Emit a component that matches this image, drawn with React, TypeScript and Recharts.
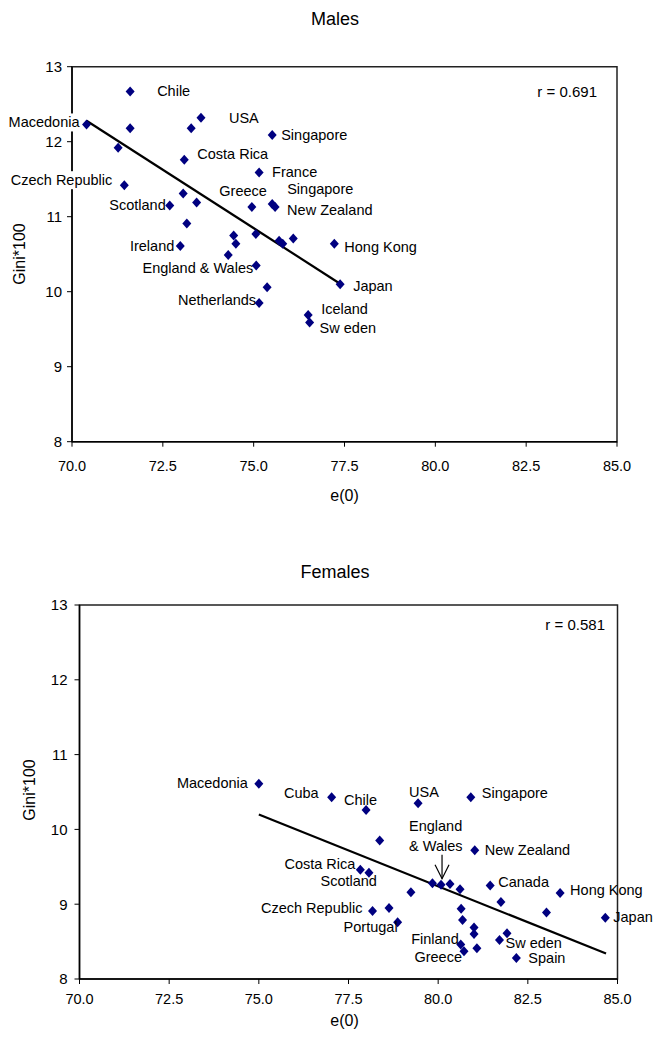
import React from 'react';
import { ScatterChart, Scatter, XAxis, YAxis, ReferenceLine, ReferenceArea } from 'recharts';

const FONT = "'Liberation Sans', Arial, sans-serif";

// Axis ticks shared by both panels
const X_TICKS = [70, 72.5, 75, 77.5, 80, 82.5, 85];
const Y_TICKS = [8, 9, 10, 11, 12, 13];

// Males: life expectancy e(0) and Gini*100
const MALE_E0 = [
  70.4, 71.6, 71.6, 73.55, 73.28, 75.51, 71.27, 73.09, 75.15, 71.44, 73.06,
  72.69, 73.43, 74.95, 75.51, 75.59, 73.16, 74.45, 75.06, 75.7, 75.8, 76.09,
  77.22, 72.98, 74.51, 74.3, 75.07, 75.37, 75.15, 77.38, 76.5, 76.54,
];
const MALE_GINI = [
  12.23, 12.67, 12.18, 12.32, 12.18, 12.09, 11.92, 11.76, 11.59, 11.42, 11.31,
  11.15, 11.19, 11.13, 11.17, 11.13, 10.91, 10.75, 10.77, 10.68, 10.64, 10.71,
  10.64, 10.61, 10.64, 10.49, 10.35, 10.06, 9.85, 10.1, 9.69, 9.59,
];
const MALE_TREND = [
  { x: 70.4, y: 12.28 },
  { x: 77.4, y: 10.1 },
];

// Females
const FEMALE_E0 = [
  75.0, 77.03, 77.99, 79.44, 80.91, 78.37, 81.02, 77.83, 78.07, 79.24, 79.84,
  80.08, 80.33, 80.61, 78.17, 78.63, 78.87, 80.64, 80.68, 81.0, 81.0, 80.63,
  80.72, 81.08, 81.45, 81.75, 83.4, 83.02, 84.66, 81.92, 81.71, 82.18,
];
const FEMALE_GINI = [
  10.61, 10.43, 10.26, 10.35, 10.43, 9.85, 9.72, 9.46, 9.42, 9.16, 9.28,
  9.26, 9.27, 9.2, 8.91, 8.95, 8.76, 8.94, 8.79, 8.69, 8.6, 8.46,
  8.37, 8.41, 9.25, 9.03, 9.15, 8.89, 8.82, 8.61, 8.52, 8.28,
];
const FEMALE_TREND = [
  { x: 75.0, y: 10.2 },
  { x: 84.68, y: 8.34 },
];

type LabelSpec = {
  i: number;
  lines: string[];
  dx: number;
  dy: number;
  anchor: 'start' | 'end' | 'middle';
  bg?: number;
  arrow?: boolean;
};

// country labels, attached to a point index, offset in pixels from the marker
const MALE_LABELS: LabelSpec[] = [
  { i: 0, lines: ['Macedonia'], dx: -7, dy: -2, anchor: 'end', bg: 76 },
  { i: 1, lines: ['Chile'], dx: 27, dy: 0, anchor: 'start' },
  { i: 3, lines: ['USA'], dx: 28, dy: 0, anchor: 'start' },
  { i: 5, lines: ['Singapore'], dx: 9, dy: 0, anchor: 'start' },
  { i: 7, lines: ['Costa Rica'], dx: 13, dy: -6, anchor: 'start' },
  { i: 8, lines: ['France'], dx: 13, dy: 0, anchor: 'start' },
  { i: 9, lines: ['Czech Republic'], dx: -12, dy: -5, anchor: 'end', bg: 106 },
  { i: 11, lines: ['Scotland'], dx: -4, dy: 0, anchor: 'end' },
  { i: 13, lines: ['Greece'], dx: 15, dy: -16, anchor: 'end' },
  { i: 14, lines: ['Singapore'], dx: 15, dy: -15, anchor: 'start' },
  { i: 15, lines: ['New Zealand'], dx: 12, dy: 3, anchor: 'start' },
  { i: 22, lines: ['Hong Kong'], dx: 10, dy: 3, anchor: 'start' },
  { i: 23, lines: ['Ireland'], dx: -6, dy: 0, anchor: 'end' },
  { i: 26, lines: ['England & Wales'], dx: -3, dy: 3, anchor: 'end' },
  { i: 28, lines: ['Netherlands'], dx: -3, dy: -3, anchor: 'end' },
  { i: 29, lines: ['Japan'], dx: 13, dy: 2, anchor: 'start' },
  { i: 30, lines: ['Iceland'], dx: 13, dy: -6, anchor: 'start' },
  { i: 31, lines: ['Sw eden'], dx: 10, dy: 6, anchor: 'start' },
];

const FEMALE_LABELS: LabelSpec[] = [
  { i: 0, lines: ['Macedonia'], dx: -11, dy: -1, anchor: 'end' },
  { i: 1, lines: ['Cuba'], dx: -13, dy: -4, anchor: 'end' },
  { i: 2, lines: ['Chile'], dx: 11, dy: -10, anchor: 'end' },
  { i: 3, lines: ['USA'], dx: -9, dy: -11, anchor: 'start' },
  { i: 4, lines: ['Singapore'], dx: 11, dy: -4, anchor: 'start' },
  { i: 6, lines: ['New Zealand'], dx: 10, dy: 0, anchor: 'start' },
  { i: 7, lines: ['Costa Rica'], dx: -5, dy: -6, anchor: 'end' },
  { i: 8, lines: ['Scotland'], dx: 8, dy: 8, anchor: 'end' },
  { i: 11, lines: ['England', '& Wales'], dx: -32, dy: -59, anchor: 'start', arrow: true },
  { i: 14, lines: ['Czech Republic'], dx: -10, dy: -3, anchor: 'end' },
  { i: 16, lines: ['Portugal'], dx: 0, dy: 5, anchor: 'end' },
  { i: 21, lines: ['Finland'], dx: -2, dy: -6, anchor: 'end' },
  { i: 22, lines: ['Greece'], dx: -2, dy: 6, anchor: 'end' },
  { i: 24, lines: ['Canada'], dx: 8, dy: -4, anchor: 'start' },
  { i: 26, lines: ['Hong Kong'], dx: 10, dy: -3, anchor: 'start' },
  { i: 28, lines: ['Japan'], dx: 8, dy: -1, anchor: 'start' },
  { i: 30, lines: ['Sw eden'], dx: 6, dy: 3, anchor: 'start' },
  { i: 31, lines: ['Spain'], dx: 12, dy: 0, anchor: 'start' },
];

const makeShape = (labels: LabelSpec[]) => (props: any) => {
  const { cx, cy, payload } = props;
  const lab = labels.find((l) => l.i === payload.idx);
  return (
    <g>
      <polygon
        points={`${cx},${cy - 5} ${cx + 4.5},${cy} ${cx},${cy + 5} ${cx - 4.5},${cy}`}
        fill="#000080"
      />
      {lab && lab.bg && (
        <rect
          x={lab.anchor === 'end' ? cx + lab.dx - lab.bg : cx + lab.dx}
          y={cy + lab.dy - 9}
          width={lab.bg}
          height={18}
          fill="#fff"
        />
      )}
      {lab &&
        lab.lines.map((t, k) => (
          <text
            key={k}
            x={cx + lab.dx}
            y={cy + lab.dy + k * 20}
            textAnchor={lab.anchor}
            dominantBaseline="central"
            fontSize={14.5}
            fontFamily={FONT}
            fill="#000"
          >
            {t}
          </text>
        ))}
      {lab && lab.arrow && (
        <g stroke="#000" strokeWidth={1.2} fill="none">
          <line x1={cx + 1} y1={cy - 30} x2={cx + 1} y2={cy - 6} />
          <polyline points={`${cx - 6},${cy - 20} ${cx + 1},${cy - 6} ${cx + 8},${cy - 20}`} />
        </g>
      )}
    </g>
  );
};

const Txt: React.FC<{ x: number; y: number; size: number; anchor?: string; rotate?: boolean; children: React.ReactNode }> = ({
  x,
  y,
  size,
  anchor = 'middle',
  rotate,
  children,
}) => {
  const tx = anchor === 'end' ? '-100%' : anchor === 'start' ? '0' : '-50%';
  return (
    <div
      style={{
        position: 'absolute',
        left: x,
        top: y,
        transform: `translate(${tx}, -50%)${rotate ? ' rotate(-90deg)' : ''}`,
        fontFamily: FONT,
        fontSize: size,
        lineHeight: 1,
        whiteSpace: 'nowrap',
        color: '#000',
      }}
    >
      {children}
    </div>
  );
};

const Panel: React.FC<{
  e0: number[];
  gini: number[];
  trend: { x: number; y: number }[];
  labels: LabelSpec[];
  height: number;
  margin: { top: number; right: number; bottom: number; left: number };
  tickMargin: number;
  yTickMargin: number;
}> = ({ e0, gini, trend, labels, height, margin, tickMargin, yTickMargin }) => {
  const data = e0.map((x, i) => ({ x, y: gini[i], idx: i }));
  const tick = { fill: '#000', fontSize: 14.5, fontFamily: FONT };
  return (
    <ScatterChart width={655} height={height} margin={margin}>
      <ReferenceArea x1={70} x2={85} y1={8} y2={13} fill="none" stroke="#222" strokeWidth={1.5} />
      <XAxis
        type="number"
        dataKey="x"
        domain={[70, 85]}
        ticks={X_TICKS}
        interval={0}
        tickFormatter={(v: number) => v.toFixed(1)}
        tickSize={5}
        tickMargin={tickMargin}
        height={30}
        axisLine={{ stroke: '#000', strokeWidth: 1.5 }}
        tickLine={{ stroke: '#000' }}
        tick={tick}
      />
      <YAxis
        type="number"
        dataKey="y"
        domain={[8, 13]}
        ticks={Y_TICKS}
        interval={0}
        tickSize={5}
        tickMargin={yTickMargin}
        width={40}
        axisLine={{ stroke: '#000', strokeWidth: 1.5 }}
        tickLine={{ stroke: '#000' }}
        tick={{ ...tick, fontSize: 15 }}
      />
      <ReferenceLine segment={trend} stroke="#000" strokeWidth={2.2} />
      <Scatter data={data} shape={makeShape(labels)} isAnimationActive={false} />
    </ScatterChart>
  );
};

export default function App() {
  return (
    <div style={{ position: 'absolute', left: 0, top: 0, width: 655, height: 1038, background: '#fff' }}>
      <div style={{ position: 'absolute', left: 0, top: 0 }}>
        <Panel
          e0={MALE_E0}
          gini={MALE_GINI}
          trend={MALE_TREND}
          labels={MALE_LABELS}
          height={520}
          margin={{ top: 66.7, right: 38, bottom: 48.3, left: 32 }}
          tickMargin={14}
          yTickMargin={5}
        />
      </div>
      <div style={{ position: 'absolute', left: 0, top: 520 }}>
        <Panel
          e0={FEMALE_E0}
          gini={FEMALE_GINI}
          trend={FEMALE_TREND}
          labels={FEMALE_LABELS}
          height={518}
          margin={{ top: 85, right: 37.5, bottom: 29, left: 39.5 }}
          tickMargin={10}
          yTickMargin={7}
        />
      </div>
      <Txt x={335} y={19} size={18}>Males</Txt>
      <Txt x={344.5} y={496} size={16}>e(0)</Txt>
      <Txt x={20} y={254} size={16} rotate>Gini*100</Txt>
      <Txt x={597} y={91} size={15} anchor="end">r = 0.691</Txt>
      <Txt x={335} y={572} size={18}>Females</Txt>
      <Txt x={344.5} y={1021} size={16}>e(0)</Txt>
      <Txt x={30} y={790} size={16} rotate>Gini*100</Txt>
      <Txt x={605} y={624} size={15} anchor="end">r = 0.581</Txt>
    </div>
  );
}
